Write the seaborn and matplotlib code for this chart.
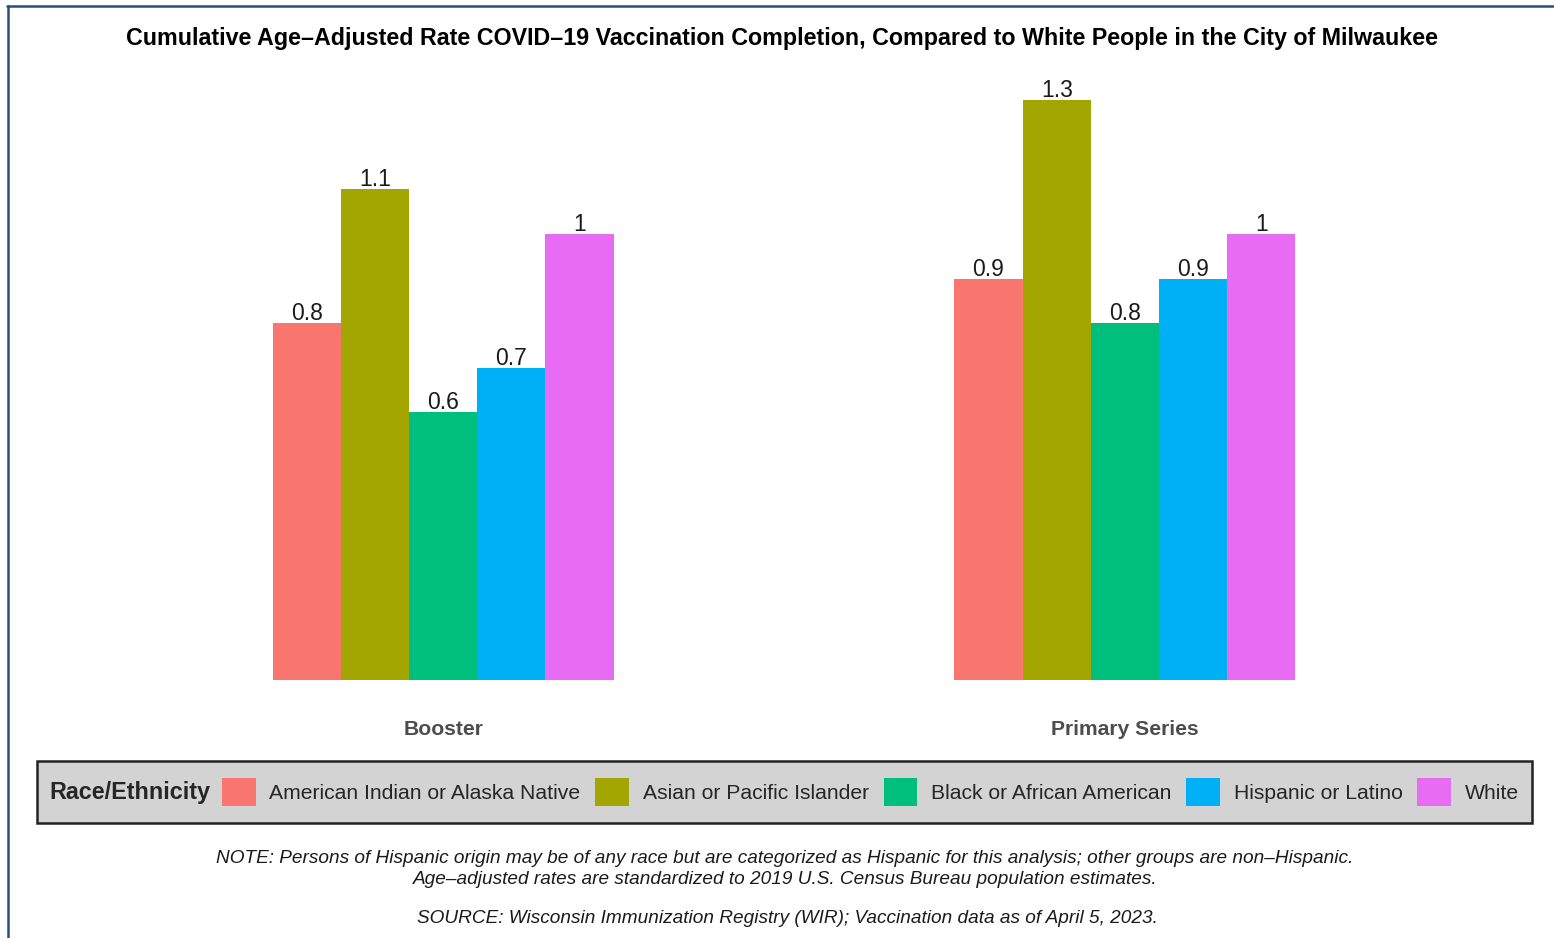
import pandas as pd
import matplotlib.pyplot as plt
import seaborn as sns
from matplotlib.patches import Rectangle, Patch
from matplotlib.lines import Line2D

# data
series = ["Booster", "Primary Series"]
races = ["American Indian or Alaska Native", "Asian or Pacific Islander",
         "Black or African American", "Hispanic or Latino", "White"]
booster = [0.8, 1.1, 0.6, 0.7, 1.0]
primary = [0.9, 1.3, 0.8, 0.9, 1.0]
colors = ["#F8766D", "#A3A500", "#00BF7D", "#00B0F6", "#E76BF3"]

df = pd.DataFrame({
    "series": [series[0]] * len(races) + [series[1]] * len(races),
    "race": races * 2,
    "rate": booster + primary,
})

sns.set_style("white")
plt.rcParams["font.family"] = ["Liberation Sans", "DejaVu Sans"]

W, H = 1554, 938
fig = plt.figure(figsize=(W / 100, H / 100), dpi=100)
ax = fig.add_axes([34 / W, 1 - 680 / H, 1500 / W, 610 / H])

sns.barplot(data=df, x="series", y="rate", hue="race", hue_order=races,
            palette=colors, width=0.5, saturation=1, ax=ax, legend=False,
            edgecolor="none", errorbar=None)

for cont in ax.containers:
    ax.bar_label(cont, fmt="%g", padding=-1.5, fontsize=16.5, color="#1a1a1a")

ax.set_xlim(-0.6, 1.6)
ax.set_ylim(0, 610 / 446)
ax.set_xlabel("")
ax.set_ylabel("")
ax.set_yticks([])
ax.tick_params(axis="x", length=0, pad=29)
for lab in ax.get_xticklabels():
    lab.set_fontweight("bold")
    lab.set_fontsize(15.2)
    lab.set_color("#4D4D4D")
sns.despine(ax=ax, left=True, bottom=True)

fig.text(782 / W, 1 - 38 / H,
         "Cumulative Age\u2013Adjusted Rate COVID\u201319 Vaccination Completion, "
         "Compared to White People in the City of Milwaukee",
         ha="center", va="center", fontsize=16.75, fontweight="bold", color="black")

# legend box
fig.add_artist(Rectangle((37 / W, 1 - 823 / H), 1495 / W, 62 / H,
                         transform=fig.transFigure, facecolor="#D3D3D3",
                         edgecolor="#222222", linewidth=1.8, zorder=0))
fig.text(49 / W, 1 - 792 / H, "Race/Ethnicity", ha="left", va="center",
         fontsize=16.8, fontweight="bold")
handles = [Patch(facecolor=c, edgecolor="none") for c in colors]
fig.legend(handles, races, loc="center", bbox_to_anchor=(870.5 / W, 1 - 792 / H),
           ncol=5, frameon=False, fontsize=15.2, handlelength=1.6, handleheight=1.6,
           handletextpad=0.65, columnspacing=0.7, borderpad=0, borderaxespad=0)

fig.text(785 / W, 1 - 869 / H,
         "NOTE: Persons of Hispanic origin may be of any race but are categorized as Hispanic "
         "for this analysis; other groups are non\u2013Hispanic.\n"
         "Age\u2013adjusted rates are standardized to 2019 U.S. Census Bureau population estimates.",
         ha="center", va="center", fontsize=13.7, style="italic",
         color="#1a1a1a", linespacing=1.27)
fig.text(787 / W, 1 - 918 / H,
         "SOURCE: Wisconsin Immunization Registry (WIR); Vaccination data as of April 5, 2023.",
         ha="center", va="center", fontsize=13.7, style="italic", color="#1a1a1a")

# outer frame lines (top and left)
fig.add_artist(Line2D([7 / W, 1], [1 - 6 / H, 1 - 6 / H], transform=fig.transFigure,
                      color="#2B4C7E", linewidth=1.8))
fig.add_artist(Line2D([7.5 / W, 7.5 / W], [0, 1 - 6 / H], transform=fig.transFigure,
                      color="#2B4C7E", linewidth=1.8))

fig.savefig("out.png", dpi=100)
